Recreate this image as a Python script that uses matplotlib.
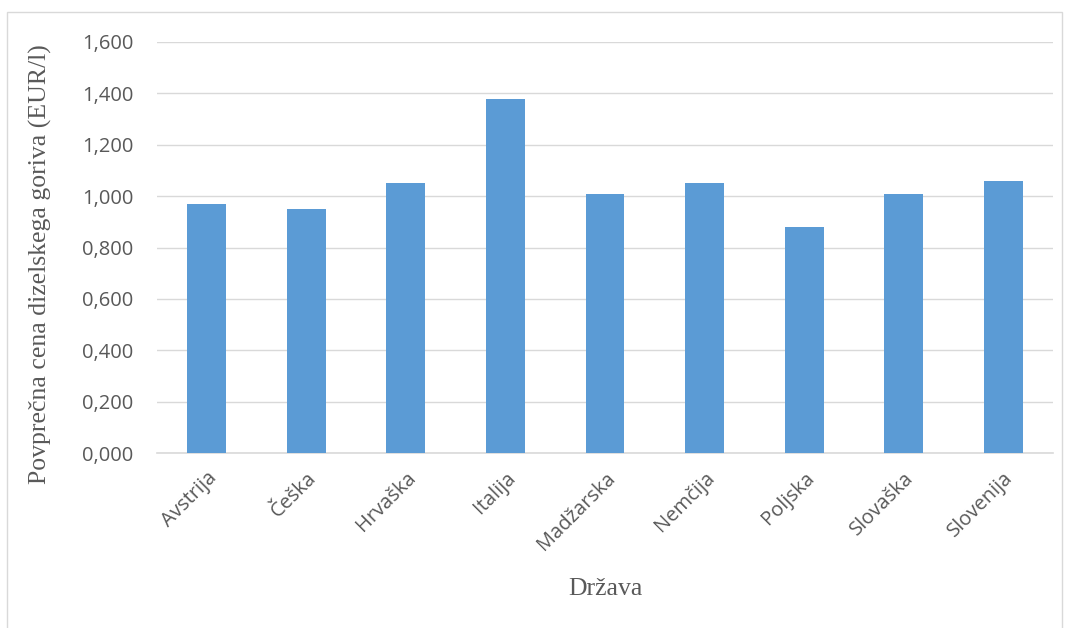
import matplotlib
matplotlib.use('Agg')
import matplotlib.pyplot as plt
import matplotlib.patches as patches
import numpy as np

# Podatki
drzave = ['Avstrija', 'Češka', 'Hrvaška', 'Italija', 'Madžarska',
          'Nemčija', 'Poljska', 'Slovaška', 'Slovenija']
cene = [0.97, 0.95, 1.05, 1.38, 1.01, 1.05, 0.88, 1.01, 1.06]
y_ticks = [0.0, 0.2, 0.4, 0.6, 0.8, 1.0, 1.2, 1.4, 1.6]

fig = plt.figure(figsize=(10.67, 6.28), dpi=100)
ax = fig.add_axes([157 / 1067, 1 - 453 / 628, 896 / 1067, 411 / 628])

# okvir grafikona
fig.patches.append(patches.Rectangle((7 / 1067, -0.05), 1055 / 1067, 1 - 12 / 628 + 0.05,
                                     transform=fig.transFigure, fill=False,
                                     edgecolor='#d9d9d9', linewidth=1))

x = np.arange(len(drzave))
ax.bar(x, cene, width=0.39, color='#5b9bd5', zorder=3)

ax.set_xlim(-0.5, len(drzave) - 0.5)
ax.set_ylim(0, 1.6)
ax.set_yticks(y_ticks)
ax.set_yticklabels([f'{v:.3f}'.replace('.', ',') for v in y_ticks])
ax.set_xticks(x)
ax.set_xticklabels(drzave, rotation=45, ha='right', rotation_mode='anchor')

for lab in ax.get_xticklabels() + ax.get_yticklabels():
    lab.set_fontfamily('Open Sans')
    lab.set_fontsize(14.5)
    lab.set_color('#595959')

ax.tick_params(axis='both', length=0)
ax.tick_params(axis='y', pad=17)
ax.tick_params(axis='x', pad=11)

ax.grid(axis='y', color='#d9d9d9', linewidth=1, zorder=0)
for s in ['top', 'right', 'left']:
    ax.spines[s].set_visible(False)
ax.spines['bottom'].set_color('#d9d9d9')
ax.spines['bottom'].set_linewidth(1.2)

ax.set_xlabel('Država', fontfamily='Liberation Serif', fontsize=18.5,
              color='#595959', labelpad=17)
ax.set_ylabel('Povprečna cena dizelskega goriva (EUR/l)', fontfamily='Liberation Serif',
              fontsize=18.5, color='#595959')
ax.yaxis.set_label_coords(-0.117, 0.46)

fig.savefig('out.png', dpi=100)
